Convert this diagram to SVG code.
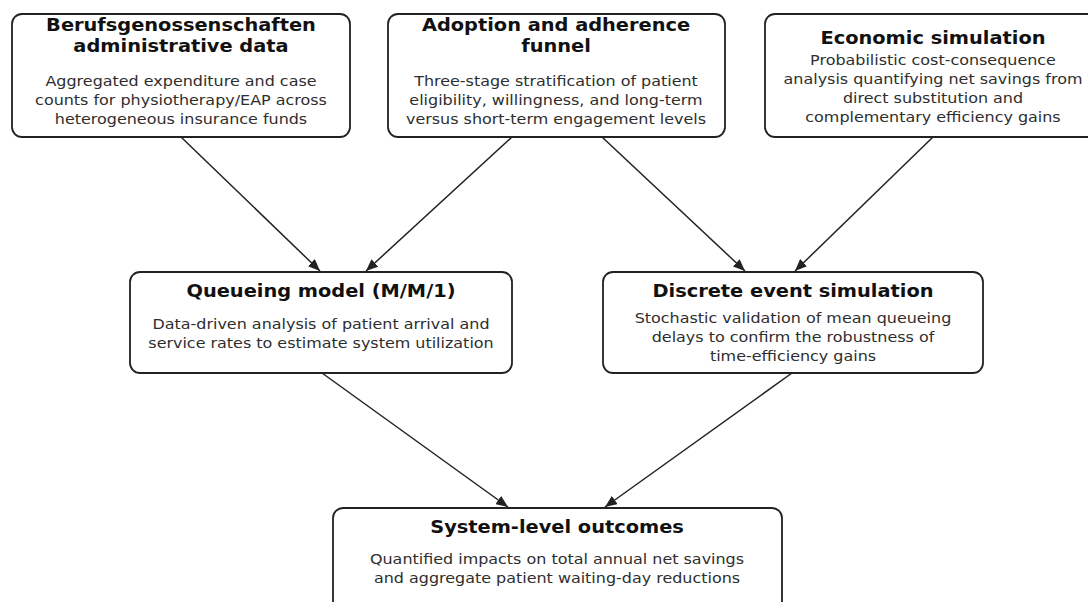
<svg xmlns="http://www.w3.org/2000/svg" width="1088" height="602" viewBox="0 0 1088 602">
  <style>
    .box { fill: #ffffff; stroke: #222222; stroke-width: 1.8; }
    .title { font-family: "DejaVu Sans", sans-serif; font-weight: bold; font-size: 17px; fill: #111111; text-anchor: middle; }
    .body { font-family: "DejaVu Sans", sans-serif; font-size: 14px; fill: #2e2e2e; text-anchor: middle; }
    .edge { stroke: #222222; stroke-width: 1.5; fill: none; marker-end: url(#arrow); }
  </style>
  <defs>
    <marker id="arrow" viewBox="0 0 12 10" refX="12" refY="5" markerWidth="12" markerHeight="10" markerUnits="userSpaceOnUse" orient="auto">
      <path d="M0,0 L12,5 L0,10 z" fill="#222222"/>
    </marker>
  </defs>
  <rect width="1088" height="602" fill="#ffffff"/>

  <g id="connectors">
    <line class="edge" x1="181" y1="137" x2="320" y2="271"/>
    <line class="edge" x1="512" y1="137" x2="366" y2="271"/>
    <line class="edge" x1="602" y1="137" x2="745" y2="271"/>
    <line class="edge" x1="933" y1="137" x2="795" y2="271"/>
    <line class="edge" x1="322" y1="373" x2="508" y2="507"/>
    <line class="edge" x1="792" y1="373" x2="605" y2="507"/>
  </g>

  <!-- labels are set in a slightly widened face: scale(1.14 1) about each node's centre -->
  <g id="bg-data">
    <rect class="box" x="12" y="14" width="338" height="123" rx="10"/>
    <g transform="translate(181 0) scale(1.14 1)">
      <text class="title" x="0" y="31">Berufsgenossenschaften</text>
      <text class="title" x="0" y="52">administrative data</text>
      <text class="body" x="0" y="86">Aggregated expenditure and case</text>
      <text class="body" x="0" y="105">counts for physiotherapy/EAP across</text>
      <text class="body" x="0" y="124">heterogeneous insurance funds</text>
    </g>
  </g>

  <g id="adoption-funnel">
    <rect class="box" x="388" y="14" width="337" height="123" rx="10"/>
    <g transform="translate(556 0) scale(1.14 1)">
      <text class="title" x="0" y="31">Adoption and adherence</text>
      <text class="title" x="0" y="52">funnel</text>
      <text class="body" x="0" y="86">Three-stage stratification of patient</text>
      <text class="body" x="0" y="105">eligibility, willingness, and long-term</text>
      <text class="body" x="0" y="124">versus short-term engagement levels</text>
    </g>
  </g>

  <g id="economic-simulation">
    <rect class="box" x="765" y="14" width="336" height="123" rx="10"/>
    <g transform="translate(933 0) scale(1.14 1)">
      <text class="title" x="0" y="44">Economic simulation</text>
      <text class="body" x="0" y="65">Probabilistic cost-consequence</text>
      <text class="body" x="0" y="84">analysis quantifying net savings from</text>
      <text class="body" x="0" y="103">direct substitution and</text>
      <text class="body" x="0" y="122">complementary efficiency gains</text>
    </g>
  </g>

  <g id="queueing-model">
    <rect class="box" x="130" y="272" width="382" height="101" rx="10"/>
    <g transform="translate(321 0) scale(1.14 1)">
      <text class="title" x="0" y="297">Queueing model (M/M/1)</text>
      <text class="body" x="0" y="329">Data-driven analysis of patient arrival and</text>
      <text class="body" x="0" y="348">service rates to estimate system utilization</text>
    </g>
  </g>

  <g id="discrete-event">
    <rect class="box" x="603" y="272" width="380" height="101" rx="10"/>
    <g transform="translate(793 0) scale(1.14 1)">
      <text class="title" x="0" y="297">Discrete event simulation</text>
      <text class="body" x="0" y="323">Stochastic validation of mean queueing</text>
      <text class="body" x="0" y="342">delays to confirm the robustness of</text>
      <text class="body" x="0" y="361">time-efficiency gains</text>
    </g>
  </g>

  <g id="system-outcomes">
    <rect class="box" x="333" y="508" width="449" height="110" rx="10"/>
    <g transform="translate(557 0) scale(1.14 1)">
      <text class="title" x="0" y="533">System-level outcomes</text>
      <text class="body" x="0" y="564">Quantified impacts on total annual net savings</text>
      <text class="body" x="0" y="583">and aggregate patient waiting-day reductions</text>
    </g>
  </g>
</svg>
